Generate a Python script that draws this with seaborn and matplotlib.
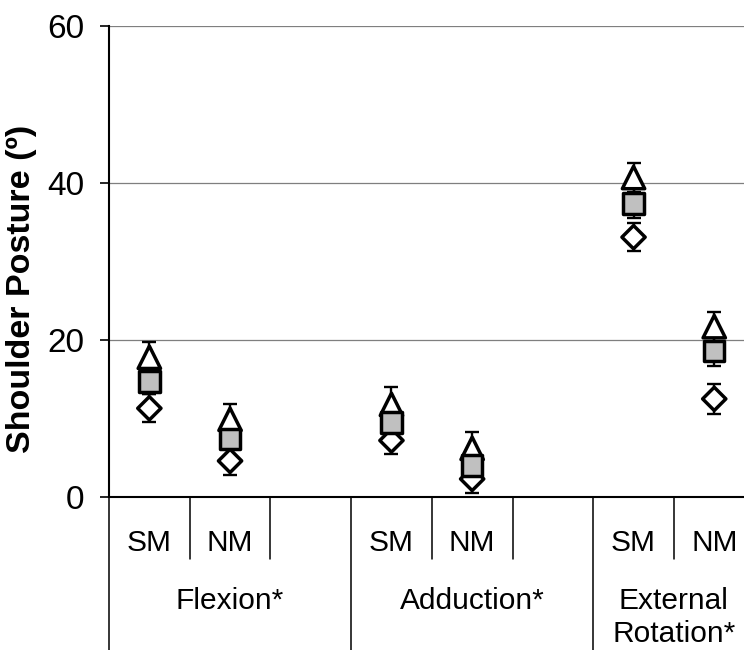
import matplotlib
matplotlib.use("Agg")
import matplotlib.pyplot as plt
import matplotlib.transforms as mtransforms
import pandas as pd
import seaborn as sns

# Movement groups and measurement conditions on the category axis
movements = ["Flexion*", "Adduction*", "External\nRotation*"]
conditions = ["SM", "NM"]
y_ticks = [0, 20, 40, 60]

# Values per movement/condition, ordered:
# Flexion SM, Flexion NM, Adduction SM, Adduction NM, Ext. Rot. SM, Ext. Rot. NM
triangle_mean = [17.8, 9.9, 11.8, 6.2, 40.7, 21.7]
triangle_err = [2.0, 2.0, 2.2, 2.1, 1.9, 1.9]
square_mean = [14.7, 7.4, 9.5, 4.0, 37.4, 18.6]
square_err = [1.6, 1.0, 1.5, 1.0, 1.9, 1.9]
diamond_mean = [11.3, 4.6, 7.2, 2.3, 33.1, 12.5]
diamond_err = [1.8, 1.8, 1.7, 1.8, 1.8, 1.9]

# Each movement takes three slots (SM, NM, spacer) except the last one
group_slots = [3, 3, 2]
group_start = [sum(group_slots[:i]) for i in range(len(group_slots))]
n_slots = sum(group_slots)

rows = []
for series, means, errs in [("triangle", triangle_mean, triangle_err),
                            ("diamond", diamond_mean, diamond_err),
                            ("square", square_mean, square_err)]:
    for i, (m, e) in enumerate(zip(means, errs)):
        g, c = divmod(i, len(conditions))
        rows.append({"series": series, "movement": movements[g],
                     "condition": conditions[c],
                     "x": group_start[g] + c + 0.5, "mean": m, "err": e})
df = pd.DataFrame(rows)

sns.set_theme(style="white")
plt.rcParams["font.family"] = ["Liberation Sans", "DejaVu Sans"]
plt.rcParams["text.color"] = "black"
plt.rcParams["ytick.color"] = "black"
plt.rcParams["ytick.labelcolor"] = "black"

W, H = 744, 650
fig = plt.figure(figsize=(W / 100, H / 100), dpi=100)
left_px, right_px, top_px, zero_px = 109, 754.6, 26, 497
ax = fig.add_axes([left_px / W, (H - zero_px) / H,
                   (right_px - left_px) / W, (zero_px - top_px) / H])

ax.errorbar(df["x"], df["mean"], yerr=df["err"], fmt="none",
            ecolor="black", elinewidth=1.7, capsize=4.8, capthick=1.7,
            zorder=3)

sns.scatterplot(data=df, x="x", y="mean", hue="series", style="series",
                size="series",
                palette={"triangle": "white", "diamond": "white",
                         "square": "#c0c0c0"},
                markers={"triangle": "^", "diamond": "D", "square": "s"},
                sizes={"triangle": 260, "diamond": 140, "square": 215},
                edgecolor="black", linewidth=2.5, legend=False, ax=ax,
                zorder=4)

ax.set_xlim(0, n_slots)
ax.set_ylim(0, 60)
ax.set_yticks(y_ticks)
ax.set_xticks([])
ax.set_xlabel("")
ax.set_ylabel("")
ax.yaxis.grid(True, color="#7f7f7f", linewidth=0.9)
ax.set_axisbelow(True)
for side in ("top", "right"):
    ax.spines[side].set_visible(False)
for side in ("left", "bottom"):
    ax.spines[side].set_color("black")
    ax.spines[side].set_linewidth(1.5)
ax.tick_params(axis="y", direction="out", length=6.5, width=1.2,
               color="black", labelcolor="black", labelsize=24, pad=11,
               left=True)

fig.text(22 / W, (H - 289) / H, "Shoulder Posture (º)", rotation=90,
         ha="center", va="center", fontsize=24.5, fontweight="bold",
         color="black")

# Category table below the axis
trans = mtransforms.blended_transform_factory(ax.transData, ax.transAxes)
axis_h = zero_px - top_px


def frac(px):
    return (zero_px - px) / axis_h


short_bottom = frac(559)
long_bottom = frac(H + 5)
for g, start in enumerate(group_start):
    for c, cond in enumerate(conditions):
        ax.text(start + c + 0.5, frac(551), cond, transform=trans,
                ha="center", va="baseline", fontsize=21.5, color="black")
    for k in range(1, group_slots[g]):
        ax.plot([start + k, start + k], [0, short_bottom], transform=trans,
                color="black", lw=1.1, clip_on=False)
    ax.plot([start, start], [0, long_bottom], transform=trans,
            color="black", lw=1.1, clip_on=False)
    for j, line in enumerate(movements[g].split("\n")):
        ax.text(start + group_slots[g] / 2, frac(609 + 33 * j), line,
                transform=trans, ha="center", va="baseline", fontsize=21.5,
                color="black")
ax.plot([n_slots, n_slots], [0, long_bottom], transform=trans,
        color="black", lw=1.1, clip_on=False)

fig.savefig("out.png", dpi=100)
